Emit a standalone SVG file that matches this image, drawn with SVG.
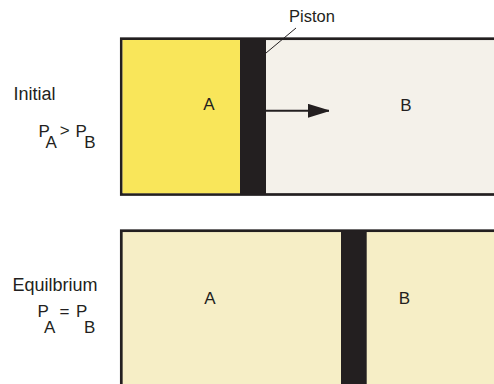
<svg xmlns="http://www.w3.org/2000/svg" width="494" height="384" viewBox="0 0 494 384">
<style>
  .t { font-family: "Liberation Sans", Arial, Helvetica, sans-serif; font-size: 17px; fill: #231F20; }
  .lbl { font-size: 18px; }
  .frame { stroke: #231F20; stroke-width: 2.7; }
  .piston { fill: #231F20; }
  .conn { stroke: #231F20; fill: none; }
</style>
<defs>
  <marker id="head" markerWidth="22" markerHeight="14" refX="21" refY="7" orient="auto" markerUnits="userSpaceOnUse">
    <path d="M0,0 L21,6.5 L21,7.5 L0,14 Z" fill="#231F20"/>
  </marker>
</defs>
<rect width="494" height="384" fill="#FFFFFF"/>

<g id="initial-cylinder">
  <rect class="frame" x="121.3" y="38.7" width="420" height="155.8" fill="#F4F1EA"/>
  <rect x="122.6" y="40" width="117.6" height="153.2" fill="#F9E65A"/>
  <rect class="piston" x="240" y="38.7" width="26" height="155.8"/>
  <text class="t" x="209" y="109.5" text-anchor="middle">A</text>
  <text class="t" x="406" y="111" text-anchor="middle">B</text>
</g>

<g id="equilibrium-cylinder">
  <rect class="frame" x="121.3" y="230.7" width="420" height="200" fill="#F6EEC6"/>
  <rect class="piston" x="341" y="230.7" width="25.7" height="160"/>
  <text class="t" x="210" y="304" text-anchor="middle">A</text>
  <text class="t" x="404.5" y="304" text-anchor="middle">B</text>
</g>

<g id="piston-label">
  <text class="t" x="289" y="22" style="font-size:16.5px">Piston</text>
</g>

<g id="initial-label">
  <text class="t lbl" x="13.5" y="100">Initial</text>
  <text class="t"><tspan x="38.5" y="136.5">P</tspan><tspan x="45.5" y="148.3">A</tspan><tspan x="59.7" y="135.8">&gt;</tspan><tspan x="75.4" y="136.5">P</tspan><tspan x="84.2" y="148.3">B</tspan></text>
</g>

<g id="equilibrium-label">
  <text class="t lbl" x="12.5" y="290.7">Equilbrium</text>
  <text class="t"><tspan x="37.5" y="316.5">P</tspan><tspan x="44" y="333">A</tspan><tspan x="59.5" y="317">=</tspan><tspan x="76" y="316.5">P</tspan><tspan x="84" y="333">B</tspan></text>
</g>

<g id="connectors">
  <line class="conn" x1="266" y1="110.8" x2="329" y2="110.8" stroke-width="2" marker-end="url(#head)"/>
  <line class="conn" x1="266" y1="53" x2="296" y2="28" stroke-width="1"/>
</g>
</svg>
